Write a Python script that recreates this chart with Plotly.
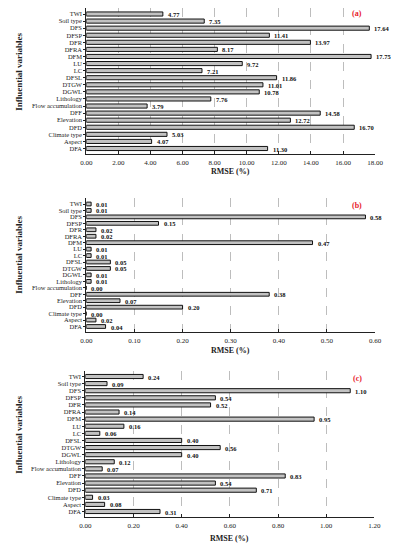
import plotly.graph_objects as go

categories = ["TWI", "Soil type", "DFS", "DFSP", "DFR", "DFRA", "DFM", "LU", "LC",
              "DFSL", "DTGW", "DGWL", "Lithology", "Flow accumulation", "DFF",
              "Elevation", "DFD", "Climate type", "Aspect", "DFA"]

rmse_a = [4.77, 7.35, 17.64, 11.41, 13.97, 8.17, 17.75, 9.72, 7.21, 11.86, 11.01,
          10.78, 7.76, 3.79, 14.58, 12.72, 16.70, 5.03, 4.07, 11.30]
rmse_b = [0.01, 0.01, 0.58, 0.15, 0.02, 0.02, 0.47, 0.01, 0.01, 0.05, 0.05,
          0.01, 0.01, 0.00, 0.38, 0.07, 0.20, 0.00, 0.02, 0.04]
rmse_c = [0.24, 0.09, 1.10, 0.54, 0.52, 0.14, 0.95, 0.16, 0.06, 0.40, 0.56,
          0.40, 0.12, 0.07, 0.83, 0.54, 0.71, 0.03, 0.08, 0.31]

panels = [("(a)", rmse_a, [0, 18], 2),
          ("(b)", rmse_b, [0, 0.6], 0.1),
          ("(c)", rmse_c, [0, 1.2], 0.2)]

# page has an 8px body margin: the figure starts at (8, 8) in the window
OFF = 8
W, H = 399 - OFF, 550 - OFF
# plot areas in window pixels: (x0, x1, ytop, ybottom)
areas = [(83, 382.5, 6, 153.5),
         (83, 382.5, 198, 331.5),
         (82, 381.7, 370.5, 516.5)]


def px(x):
    return (x - OFF) / W


def py(y):
    return 1 - (y - OFF) / H


SERIF = "Liberation Serif, DejaVu Serif, serif"
fig = go.Figure()
annotations = []
for i, (lab, vals, rng, dt) in enumerate(panels):
    n = i + 1
    xa = "x" if n == 1 else f"x{n}"
    ya = "y" if n == 1 else f"y{n}"
    fig.add_trace(go.Bar(
        x=vals, y=categories, orientation="h", xaxis=xa, yaxis=ya,
        width=0.58,
        marker=dict(color="#c2c2c2", line=dict(color="#111111", width=1)),
        showlegend=False, hoverinfo="skip"))
    for c, v in zip(categories, vals):
        annotations.append(dict(
            x=v, y=c, xref=xa, yref=ya, text=f"<b>{v:.2f}</b>",
            showarrow=False, xanchor="left", xshift=3, yshift=-0.5,
            font=dict(family=SERIF, size=6.5, color="#111")))
    x0, x1, yt, yb = areas[i]
    xd = [px(x0), px(x1)]
    yd = [max(0, py(yb)), min(1, py(yt))]
    lay_x = "xaxis" if n == 1 else f"xaxis{n}"
    lay_y = "yaxis" if n == 1 else f"yaxis{n}"
    fig.layout[lay_x] = dict(
        domain=xd, range=rng, anchor=ya, tick0=0, dtick=dt, tickformat=".2f",
        showgrid=True, gridcolor="#bdbdbd", griddash="dash", gridwidth=1,
        showline=True, linecolor="#222", linewidth=1, zeroline=False,
        ticks="inside", ticklen=3, tickcolor="#222",
        ticklabelstandoff=2,
        tickfont=dict(family=SERIF, size=7, color="#222"), fixedrange=True)
    fig.layout[lay_y] = dict(
        domain=yd, anchor=xa, autorange="reversed", showgrid=False,
        tickmode="array", tickvals=categories, ticktext=categories,
        showline=True, linecolor="#222", linewidth=1, zeroline=False,
        ticks="outside", ticklen=2, tickcolor="#222",
        tickfont=dict(family=SERIF, size=6.5, color="#222"), fixedrange=True)
    # panel label
    annotations.append(dict(
        x=px(x1 - 11), y=py(yt + 8), xref="paper", yref="paper",
        text=f"<b>{lab}</b>", showarrow=False, xanchor="right", yanchor="middle",
        font=dict(family=SERIF, size=8, color="#e8212b")))
    # x-axis title
    title_y = [171, 350, 538.5][i]
    annotations.append(dict(
        x=px((x0 + x1) / 2), y=py(title_y), xref="paper", yref="paper",
        text="<b>RMSE (%)</b>", showarrow=False, xanchor="center", yanchor="middle",
        font=dict(family=SERIF, size=8, color="#222")))
    # y-axis title
    ycenter = [72, 255, 435][i]
    annotations.append(dict(
        x=px(13), y=py(ycenter), xref="paper", yref="paper",
        text="<b>Influential variables</b>", showarrow=False, textangle=-90,
        xanchor="center", yanchor="middle",
        font=dict(family=SERIF, size=9, color="#222")))

fig.update_layout(
    width=W, height=H, margin=dict(l=0, r=0, t=0, b=0),
    paper_bgcolor="white", plot_bgcolor="white",
    bargap=0.4, annotations=annotations)

fig.write_html("out.html")
